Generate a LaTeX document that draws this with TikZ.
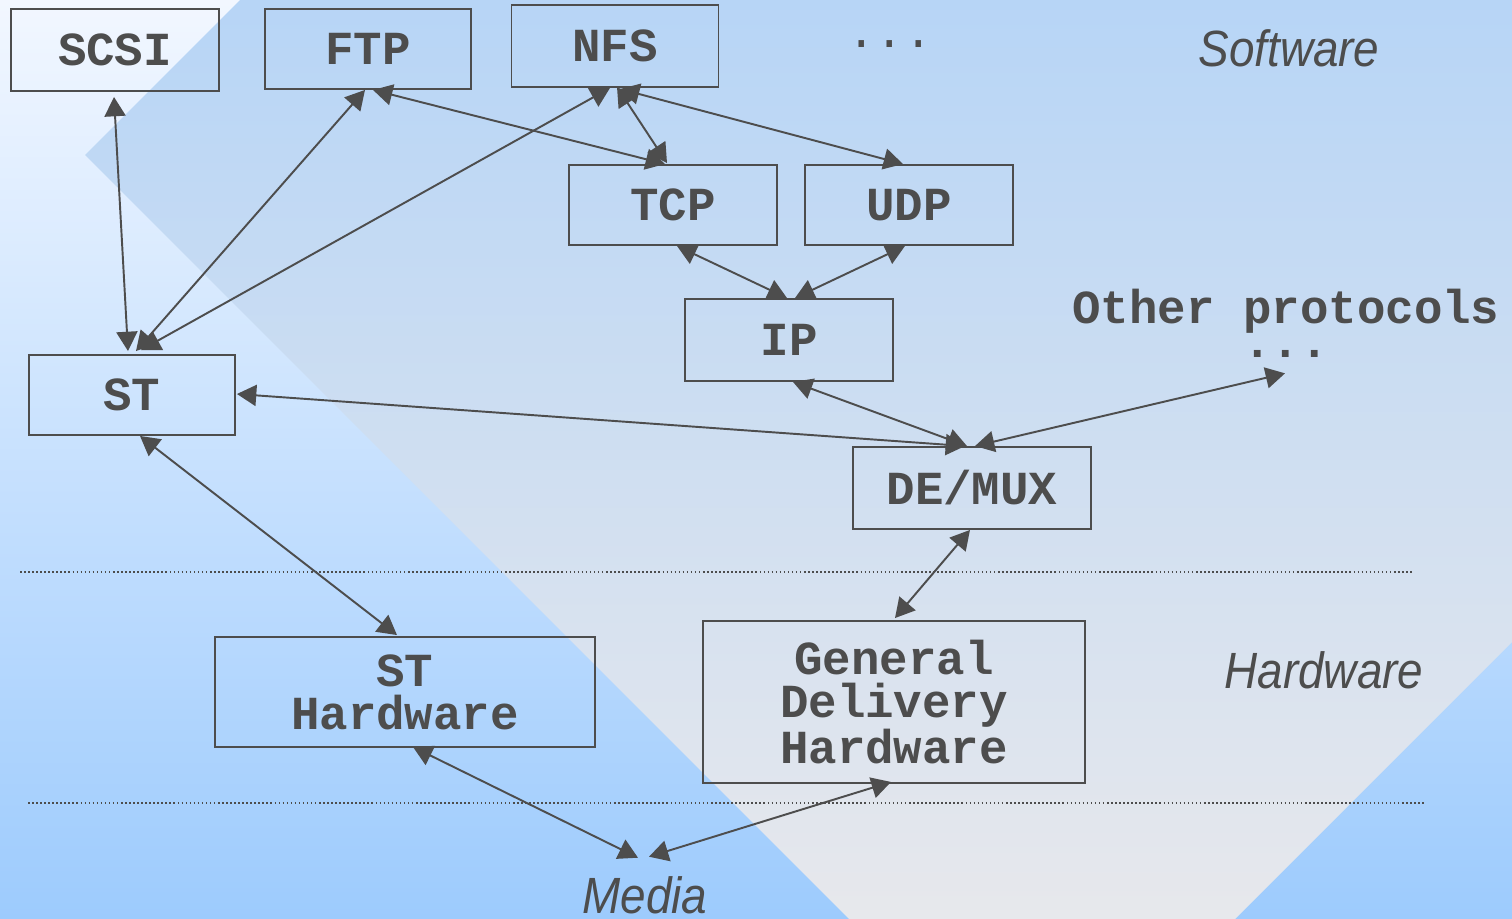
\documentclass[tikz,border=0pt]{standalone}
\usepackage{fontspec}
\newfontfamily\boxfont{Liberation Mono}
\newfontfamily\layerfont[FakeStretch=0.9]{Liberation Sans}
\usetikzlibrary{arrows.meta,calc}
\definecolor{ink}{RGB}{77,77,77}
\definecolor{bgtop}{RGB}{242,247,255}
\definecolor{bgbot}{RGB}{157,203,253}
\definecolor{dmtop}{RGB}{183,213,246}
\definecolor{dmbot}{RGB}{231,232,236}
\begin{document}
\begin{tikzpicture}[x=0.02cm,y=-0.02cm,
  box/.style={draw=ink, line width=1.1pt, text=ink,
    font=\boxfont\bfseries\fontsize{27}{24.5}\selectfont,
    align=center, inner sep=0pt},
  plain/.style={text=ink, inner sep=0pt,
    font=\boxfont\bfseries\fontsize{27}{27}\selectfont},
  layer/.style={text=ink, inner sep=0pt,
    font=\layerfont\itshape\fontsize{29}{30}\selectfont},
  link/.style={draw=ink, line width=1.1pt,
    {Triangle[length=11pt,width=12pt]}-{Triangle[length=11pt,width=12pt]}},
  sep/.style={draw=ink, line width=0.9pt, dash pattern=on 0.9pt off 1.4pt}
]
% backdrop and the tilted square behind the protocol stack
\useasboundingbox (0,0) rectangle (1512,919);
\shade[top color=bgtop, bottom color=bgbot] (0,0) rectangle (1512,919);
\shade[top color=dmtop, bottom color=dmbot]
  (85,155) -- (240,0) -- (1512,0) -- (1512,642) -- (1235,919) -- (849,919) -- cycle;

% layer separators
\coordinate (sepAl) at (20,572);   \coordinate (sepAr) at (1413,572);
\coordinate (sepBl) at (28,803);   \coordinate (sepBr) at (1425,803);
\draw[sep] (sepAl) -- (sepAr);
\draw[sep] (sepBl) -- (sepBr);

% protocol boxes
\node[box, minimum width=4.16cm, minimum height=1.64cm] (scsi) at (115,50) {SCSI};
\node[box, minimum width=4.12cm, minimum height=1.60cm] (ftp) at (368,49) {FTP};
\node[box, minimum width=4.14cm, minimum height=1.64cm] (nfs) at (615,46) {NFS};
\node[box, minimum width=4.16cm, minimum height=1.60cm] (tcp) at (673,205) {TCP};
\node[box, minimum width=4.16cm, minimum height=1.60cm] (udp) at (909,205) {UDP};
\node[box, minimum width=4.16cm, minimum height=1.64cm] (ip) at (789,340) {IP};
\node[box, minimum width=4.12cm, minimum height=1.60cm] (st) at (132,395) {ST};
\node[box, minimum width=4.76cm, minimum height=1.64cm] (demux) at (972,488) {DE/MUX};
\node[box, minimum width=7.60cm, minimum height=2.20cm] (sthw) at (405,692) {ST\\Hardware};
\node[box, minimum width=7.64cm, minimum height=3.24cm] (gdh) at (894,702) {General\\Delivery\\Hardware};

% free labels
\node[plain, font=\boxfont\fontsize{27}{27}\selectfont] (more) at (890,44) {...};
\node[plain, align=center, anchor=north,
  font=\boxfont\bfseries\fontsize{27}{19.5}\selectfont] (other) at (1286,289)
  {Other protocols\\...};
\node[layer] (sw) at (1289,48) {Software};
\node[layer] (hw) at (1324,670) {Hardware};
\node[layer, anchor=base] (media) at (645,913) {Media};

% connections
\draw[link] ($(scsi.south)+(-1,5)$) -- ($(st.north)+(-4,-3)$);
\draw[link] ($(ftp.south)+(-3,0)$) -- ($(st.north)+(4,-3)$);
\draw[link] ($(nfs.south)+(-5,0)$) -- ($(st.north)+(9,-4)$);
\draw[link] ($(ftp.south)+(5,0)$) -- ($(tcp.north)+(-8,0)$);
\draw[link] ($(nfs.south)+(2,-1)$) -- ($(tcp.north)+(-6,-1)$);
\draw[link] ($(nfs.south)+(5,1)$) -- ($(udp.north)+(-6,0)$);
\draw[link] ($(tcp.south)+(4,0)$) -- ($(ip.north)+(-2,0)$);
\draw[link] ($(udp.south)+(-4,0)$) -- ($(ip.north)+(6,0)$);
\draw[link] ($(st.east)+(1,-1)$) -- ($(demux.north)+(-7,0)$);
\draw[link] ($(ip.south)+(4,0)$) -- ($(demux.north)+(-5,0)$);
\draw[link] ($(demux.north)+(3,0)$) -- ($(other.south)+(-1,15)$);
\draw[link] ($(demux.south)+(-2,0)$) -- ($(gdh.north)+(1,-2)$);
\draw[link] ($(st.south)+(8,0)$) -- ($(sthw.north)+(-8,-1)$);
\draw[link] ($(sthw.south)+(8,-1)$) -- ($(media.north)+(-7,-18)$);
\draw[link] ($(gdh.south)+(-3,-2)$) -- ($(media.north)+(4,-19)$);
\end{tikzpicture}
\end{document}
